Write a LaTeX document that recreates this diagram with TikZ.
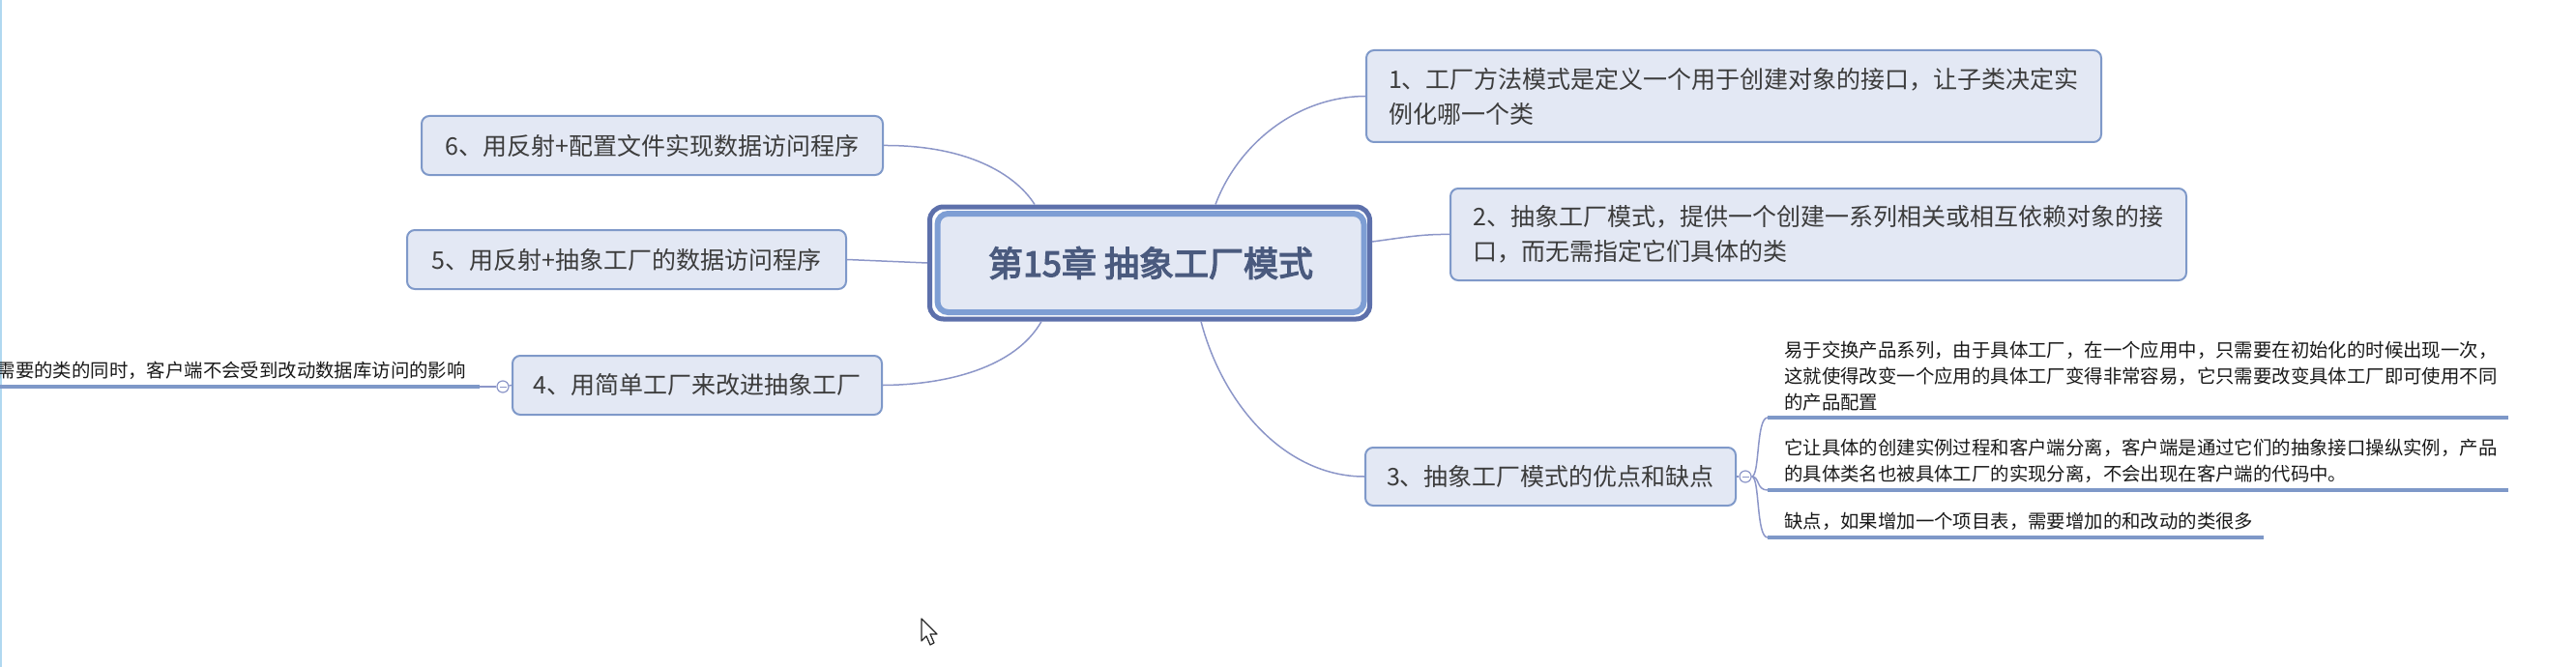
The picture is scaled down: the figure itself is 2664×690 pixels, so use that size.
\documentclass[tikz,border=0pt]{standalone}
\usepackage{fontspec}
\usetikzlibrary{calc}
\newfontfamily\cjk{Noto Sans CJK SC}
\newfontfamily\cjkbf[FakeBold=3.5]{Noto Sans CJK SC}
\definecolor{boxfill}{HTML}{E3E8F4}
\definecolor{boxline}{HTML}{7F99C9}
\definecolor{cenout}{HTML}{5D70AB}
\definecolor{cenin}{HTML}{7E9ED4}
\definecolor{linkcol}{HTML}{8C96C8}
\definecolor{leafcol}{HTML}{7E98C8}
\definecolor{textcol}{HTML}{3C3C3C}
\definecolor{centext}{HTML}{4A5A7E}
\definecolor{edgeblue}{HTML}{B0D8F0}

\begin{document}
\begin{tikzpicture}[x=1pt, y=-1pt,
    topic/.style={draw=boxline, line width=2pt, fill=boxfill, rounded corners=8pt, text=textcol,
      font=\cjk\fontsize{25}{36}\selectfont, align=left, inner xsep=18pt},
    leaf/.style={text=black!90, font=\cjk\fontsize{19.4}{27}\selectfont, align=left,
      inner xsep=17pt, inner ysep=7pt},
    leafline/.style={leafcol, line width=4pt},
    link/.style={linkcol, line width=1.5pt},
    fold/.style={circle, draw=linkcol, fill=white, line width=1.2pt, minimum size=12pt, inner sep=0pt,
      path picture={\draw[linkcol, line width=1pt] ($(path picture bounding box.center)+(-3.5,0)$) -- ($(path picture bounding box.center)+(3.5,0)$);}}]

    \useasboundingbox (0,0) rectangle (2664,690);
    \draw[edgeblue, line width=2pt] (1,0) -- (1,690);

    \node[draw=cenout, line width=5pt, rounded corners=14pt, fill=white, minimum width=455pt, minimum height=116pt] (cen) at (1189,272) {};
    \node[draw=cenin, line width=6pt, rounded corners=11pt, fill=boxfill, minimum width=441pt, minimum height=102pt,
      text=centext, font=\cjkbf\fontsize{36}{40}\selectfont] (title) at (1190,272) {第15章 抽象工厂模式};

    \node[topic, minimum width=760pt, minimum height=95pt] (t1) at (1793,99.5) {1、工厂方法模式是定义一个用于创建对象的接口，让子类决定实\\例化哪一个类};
    \node[topic, minimum width=761pt, minimum height=95pt] (t2) at (1880.5,242.5) {2、抽象工厂模式，提供一个创建一系列相关或相互依赖对象的接\\口，而无需指定它们具体的类};
    \node[topic, minimum width=383pt, minimum height=60pt] (t3) at (1603.5,493) {3、抽象工厂模式的优点和缺点};
    \node[topic, minimum width=382pt, minimum height=61pt] (t4) at (721,398.5) {4、用简单工厂来改进抽象工厂};
    \node[topic, minimum width=454pt, minimum height=61pt] (t5) at (648,268.5) {5、用反射+抽象工厂的数据访问程序};
    \node[topic, minimum width=477pt, minimum height=61pt] (t6) at (674.5,150.5) {6、用反射+配置文件实现数据访问程序};

    \node[fold] (f3) at (1805,493) {};
    \node[fold] (f4) at (520,400) {};

    \node[leaf, anchor=south west, text width=732pt] (l1) at (1828,432) {易于交换产品系列，由于具体工厂，在一个应用中，只需要在初始化的时候出现一次，\\这就使得改变一个应用的具体工厂变得非常容易，它只需要改变具体工厂即可使用不同\\的产品配置};
    \node[leaf, anchor=south west, text width=732pt] (l2) at (1828,507) {它让具体的创建实例过程和客户端分离，客户端是通过它们的抽象接口操纵实例，产品\\的具体类名也被具体工厂的实现分离，不会出现在客户端的代码中。};
    \node[leaf, anchor=south west, text width=479pt] (l3) at (1828,556) {缺点，如果增加一个项目表，需要增加的和改动的类很多};
    \draw[leafline] (l1.south west) -- (l1.south east);
    \draw[leafline] (l2.south west) -- (l2.south east);
    \draw[leafline] (l3.south west) -- (l3.south east);

    \coordinate (k4l) at (0,400);
    \node[leaf, anchor=south east, inner xsep=14pt] (k4) at (496,400) {需要的类的同时，客户端不会受到改动数据库访问的影响};
    \draw[leafline] (k4l) -- (k4.south east);

    \draw[link] ($(cen.north)+(68,0)$) .. controls (1280,150) and (1340,100) .. (t1.west);
    \draw[link] ($(cen.east)+(0,-22)$) .. controls (1450,246) and (1470,242) .. (t2.west);
    \draw[link] ($(cen.south)+(53,0)$) .. controls (1265,420) and (1330,493) .. (t3.west);
    \draw[link] (t6.east) .. controls (1000,150) and (1050,180) .. ($(cen.north)+(-119,0)$);
    \draw[link] (t5.east) -- (cen.west);
    \draw[link] ($(cen.south)+(-112,0)$) .. controls (1050,380) and (980,398) .. (t4.east);

    \draw[link] (t3.east) -- (f3);
    \draw[link] (f3.east) .. controls (1820,493) and (1816,432) .. (l1.south west);
    \draw[link] (f3.east) .. controls (1820,493) and (1816,507) .. (l2.south west);
    \draw[link] (f3.east) .. controls (1820,493) and (1816,556) .. (l3.south west);
    \draw[link] (t4.west) -- (f4);
    \draw[link] (f4) -- (k4.south east);

    \draw[black!85, line width=1.2pt, fill=white, line join=round] (953,640) -- (953,663) -- (958,658) -- (962,667) -- (966,665) -- (962,656) -- (969,656) -- cycle;
\end{tikzpicture}
\end{document}
